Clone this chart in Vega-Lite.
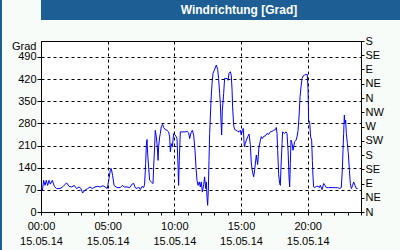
{
  "$schema": "https://vega.github.io/schema/vega-lite/v6.json",
  "background": "#f8fcf8",
  "padding": 0,
  "spacing": 0,
  "config": {
    "font": "Liberation Sans",
    "axis": {"labelFont": "Liberation Sans", "labelFontSize": 11, "labelColor": "black", "tickColor": "black", "domainColor": "black", "tickWidth": 1, "domainWidth": 1}
  },
  "hconcat": [
    {
      "width": 2, "height": 250,
      "view": {"fill": "#1d5e94", "stroke": null},
      "data": {"values": [{}]},
      "mark": {"type": "point", "size": 0, "opacity": 0},
      "encoding": {}
    },
    {
      "spacing": 0,
      "vconcat": [
        {
          "spacing": 14,
          "vconcat": [
            {
              "width": 396, "height": 20,
              "view": {"fill": "#1d5e94", "stroke": null},
              "data": {"values": [{"label": "Windrichtung [Grad]"}]},
              "mark": {"type": "text", "color": "white", "font": "Liberation Sans", "fontSize": 12, "fontWeight": "bold", "align": "center", "baseline": "middle"},
              "encoding": {"text": {"field": "label"}}
            },
            {
              "width": 320, "height": 171,
              "view": {"fill": "white", "stroke": "black"},
              "data": {
                "values": [
                  {"h": 0.0, "v": 72}, {"h": 0.1, "v": 67}, {"h": 0.2, "v": 100}, {"h": 0.3, "v": 84}, {"h": 0.4, "v": 100}, {"h": 0.5, "v": 84},
                  {"h": 0.6, "v": 100}, {"h": 0.7, "v": 88}, {"h": 0.85, "v": 100}, {"h": 1.0, "v": 81}, {"h": 1.17, "v": 74}, {"h": 1.43, "v": 74},
                  {"h": 1.67, "v": 81}, {"h": 1.92, "v": 92}, {"h": 2.1, "v": 81}, {"h": 2.3, "v": 79}, {"h": 2.5, "v": 84}, {"h": 2.67, "v": 74},
                  {"h": 2.85, "v": 79}, {"h": 3.0, "v": 74}, {"h": 3.12, "v": 60}, {"h": 3.3, "v": 69}, {"h": 3.5, "v": 74}, {"h": 3.68, "v": 79},
                  {"h": 3.85, "v": 74}, {"h": 4.05, "v": 79}, {"h": 4.25, "v": 81}, {"h": 4.45, "v": 79}, {"h": 4.65, "v": 83}, {"h": 4.8, "v": 79},
                  {"h": 4.97, "v": 74}, {"h": 5.1, "v": 105}, {"h": 5.2, "v": 132}, {"h": 5.27, "v": 137}, {"h": 5.37, "v": 116}, {"h": 5.48, "v": 84},
                  {"h": 5.7, "v": 77}, {"h": 5.95, "v": 77}, {"h": 6.1, "v": 84}, {"h": 6.25, "v": 79}, {"h": 6.45, "v": 79}, {"h": 6.65, "v": 77},
                  {"h": 6.83, "v": 88}, {"h": 6.95, "v": 90}, {"h": 7.07, "v": 77}, {"h": 7.2, "v": 74}, {"h": 7.32, "v": 79}, {"h": 7.45, "v": 71},
                  {"h": 7.58, "v": 81}, {"h": 7.7, "v": 77}, {"h": 7.77, "v": 88}, {"h": 7.85, "v": 153}, {"h": 7.9, "v": 211}, {"h": 7.95, "v": 229},
                  {"h": 8.0, "v": 184}, {"h": 8.07, "v": 142}, {"h": 8.15, "v": 100}, {"h": 8.27, "v": 95}, {"h": 8.4, "v": 90}, {"h": 8.45, "v": 142},
                  {"h": 8.52, "v": 206}, {"h": 8.57, "v": 258}, {"h": 8.65, "v": 237}, {"h": 8.72, "v": 206}, {"h": 8.78, "v": 163}, {"h": 8.82, "v": 206},
                  {"h": 8.9, "v": 237}, {"h": 8.95, "v": 248}, {"h": 9.02, "v": 269}, {"h": 9.12, "v": 277}, {"h": 9.2, "v": 267}, {"h": 9.32, "v": 260},
                  {"h": 9.45, "v": 258}, {"h": 9.57, "v": 253}, {"h": 9.65, "v": 237}, {"h": 9.7, "v": 190}, {"h": 9.77, "v": 216}, {"h": 9.85, "v": 206},
                  {"h": 9.9, "v": 227}, {"h": 9.95, "v": 248}, {"h": 10.07, "v": 243}, {"h": 10.2, "v": 232}, {"h": 10.28, "v": 142}, {"h": 10.32, "v": 84},
                  {"h": 10.37, "v": 163}, {"h": 10.45, "v": 253}, {"h": 10.58, "v": 253}, {"h": 10.82, "v": 253}, {"h": 10.95, "v": 255}, {"h": 11.07, "v": 250},
                  {"h": 11.15, "v": 232}, {"h": 11.25, "v": 250}, {"h": 11.35, "v": 258}, {"h": 11.45, "v": 243}, {"h": 11.55, "v": 195}, {"h": 11.63, "v": 137},
                  {"h": 11.7, "v": 100}, {"h": 11.78, "v": 84}, {"h": 11.87, "v": 95}, {"h": 11.95, "v": 79}, {"h": 12.02, "v": 95}, {"h": 12.1, "v": 63},
                  {"h": 12.2, "v": 86}, {"h": 12.27, "v": 111}, {"h": 12.35, "v": 74}, {"h": 12.4, "v": 95}, {"h": 12.45, "v": 47}, {"h": 12.5, "v": 21},
                  {"h": 12.55, "v": 69}, {"h": 12.6, "v": 163}, {"h": 12.65, "v": 248}, {"h": 12.7, "v": 300}, {"h": 12.75, "v": 353}, {"h": 12.83, "v": 406},
                  {"h": 12.9, "v": 438}, {"h": 13.0, "v": 448}, {"h": 13.15, "v": 464}, {"h": 13.25, "v": 450}, {"h": 13.32, "v": 422}, {"h": 13.4, "v": 374},
                  {"h": 13.45, "v": 343}, {"h": 13.5, "v": 285}, {"h": 13.55, "v": 243}, {"h": 13.6, "v": 322}, {"h": 13.7, "v": 374}, {"h": 13.77, "v": 422},
                  {"h": 13.88, "v": 421}, {"h": 13.95, "v": 422}, {"h": 14.03, "v": 416}, {"h": 14.1, "v": 438}, {"h": 14.2, "v": 443}, {"h": 14.27, "v": 432},
                  {"h": 14.33, "v": 385}, {"h": 14.37, "v": 332}, {"h": 14.45, "v": 274}, {"h": 14.52, "v": 261}, {"h": 14.63, "v": 258}, {"h": 14.75, "v": 255},
                  {"h": 14.85, "v": 253}, {"h": 14.95, "v": 258}, {"h": 15.02, "v": 243}, {"h": 15.1, "v": 258}, {"h": 15.17, "v": 264}, {"h": 15.25, "v": 206},
                  {"h": 15.32, "v": 216}, {"h": 15.4, "v": 227}, {"h": 15.5, "v": 237}, {"h": 15.6, "v": 246}, {"h": 15.7, "v": 213}, {"h": 15.77, "v": 155},
                  {"h": 15.85, "v": 130}, {"h": 15.95, "v": 111}, {"h": 16.03, "v": 135}, {"h": 16.15, "v": 180}, {"h": 16.25, "v": 150}, {"h": 16.35, "v": 206},
                  {"h": 16.45, "v": 225}, {"h": 16.52, "v": 238}, {"h": 16.6, "v": 232}, {"h": 16.7, "v": 239}, {"h": 16.82, "v": 240}, {"h": 16.95, "v": 248},
                  {"h": 17.07, "v": 245}, {"h": 17.2, "v": 253}, {"h": 17.33, "v": 255}, {"h": 17.45, "v": 258}, {"h": 17.57, "v": 260}, {"h": 17.65, "v": 267},
                  {"h": 17.7, "v": 248}, {"h": 17.75, "v": 195}, {"h": 17.82, "v": 121}, {"h": 17.9, "v": 90}, {"h": 17.95, "v": 84}, {"h": 18.0, "v": 142},
                  {"h": 18.08, "v": 216}, {"h": 18.12, "v": 253}, {"h": 18.25, "v": 248}, {"h": 18.38, "v": 253}, {"h": 18.45, "v": 248}, {"h": 18.53, "v": 195},
                  {"h": 18.6, "v": 111}, {"h": 18.65, "v": 79}, {"h": 18.7, "v": 153}, {"h": 18.75, "v": 227}, {"h": 18.83, "v": 216}, {"h": 18.9, "v": 195},
                  {"h": 18.95, "v": 206}, {"h": 19.02, "v": 222}, {"h": 19.13, "v": 227}, {"h": 19.2, "v": 237}, {"h": 19.28, "v": 258}, {"h": 19.35, "v": 300},
                  {"h": 19.43, "v": 364}, {"h": 19.5, "v": 395}, {"h": 19.58, "v": 422}, {"h": 19.65, "v": 429}, {"h": 19.75, "v": 432}, {"h": 19.88, "v": 434},
                  {"h": 19.97, "v": 435}, {"h": 20.03, "v": 385}, {"h": 20.07, "v": 290}, {"h": 20.15, "v": 285}, {"h": 20.22, "v": 237}, {"h": 20.3, "v": 227},
                  {"h": 20.35, "v": 163}, {"h": 20.4, "v": 111}, {"h": 20.45, "v": 79}, {"h": 20.52, "v": 77}, {"h": 20.65, "v": 81}, {"h": 20.78, "v": 81},
                  {"h": 20.88, "v": 77}, {"h": 20.95, "v": 84}, {"h": 21.08, "v": 71}, {"h": 21.2, "v": 90}, {"h": 21.3, "v": 84}, {"h": 21.4, "v": 77},
                  {"h": 21.57, "v": 77}, {"h": 21.83, "v": 77}, {"h": 22.07, "v": 77}, {"h": 22.25, "v": 77}, {"h": 22.4, "v": 74}, {"h": 22.52, "v": 77},
                  {"h": 22.6, "v": 132}, {"h": 22.65, "v": 195}, {"h": 22.7, "v": 248}, {"h": 22.75, "v": 306}, {"h": 22.8, "v": 279}, {"h": 22.85, "v": 290},
                  {"h": 22.9, "v": 248}, {"h": 22.98, "v": 216}, {"h": 23.05, "v": 184}, {"h": 23.13, "v": 132}, {"h": 23.2, "v": 90}, {"h": 23.28, "v": 74},
                  {"h": 23.37, "v": 84}, {"h": 23.45, "v": 95}, {"h": 23.55, "v": 84}, {"h": 23.65, "v": 74}, {"h": 23.75, "v": 74}
                ]
              },
              "resolve": {"axis": {"y": "independent"}},
              "layer": [
                {
                  "mark": {"type": "line", "color": "#0000ff", "strokeWidth": 1},
                  "encoding": {
                    "x": {
                      "field": "h", "type": "quantitative",
                      "scale": {"domain": [0, 24], "nice": false},
                      "axis": {
                        "orient": "bottom", "title": null,
                        "values": [0,1,2,3,4,5,6,7,8,9,10,11,12,13,14,15,16,17,18,19,20,21,22,23,24],
                        "tickCount": 25,
                        "tickSize": 3,
                        "labelExpr": "datum.value % 5 === 0 && datum.value < 24 ? [(datum.value < 10 ? '0' : '') + datum.value + ':00', '15.05.14'] : ''",
                        "labelPadding": 5, "labelLineHeight": 15, "labelOverlap": false, "labelFlush": false, "labelBound": false,
                        "grid": true, "gridColor": "black", "gridDash": [3, 3], "gridWidth": 1,
                        "gridOpacity": {"condition": {"test": "datum.value % 5 === 0", "value": 1}, "value": 0},
                        "minExtent": 37
                      }
                    },
                    "y": {
                      "field": "v", "type": "quantitative",
                      "scale": {"domain": [0, 540], "nice": false},
                      "axis": {
                        "orient": "left",
                        "values": [0, 70, 140, 210, 280, 350, 420, 490],
                        "tickCount": 10,
                        "tickSize": 4, "labelPadding": 1, "labelFlush": false, "labelOverlap": false,
                        "grid": true, "gridColor": "black", "gridDash": [3, 3], "gridWidth": 1,
                        "title": "Grad", "titleAngle": 0, "titleAlign": "right", "titleBaseline": "alphabetic",
                        "titleX": -5, "titleY": 8, "titleFont": "Liberation Sans", "titleFontSize": 11, "titleFontWeight": "normal", "titleColor": "black",
                        "minExtent": 38, "maxExtent": 38
                      }
                    }
                  }
                },
                {
                  "mark": {"type": "line", "opacity": 0, "strokeWidth": 1},
                  "encoding": {
                    "x": {"field": "h", "type": "quantitative"},
                    "y": {
                      "field": "v", "type": "quantitative",
                      "axis": {
                        "orient": "right", "title": null,
                        "values": [0, 45, 90, 135, 180, 225, 270, 315, 360, 405, 450, 495, 540],
                        "tickCount": 13,
                        "labelExpr": "datum.value % 360 === 0 ? 'N' : datum.value % 360 === 45 ? 'NE' : datum.value % 360 === 90 ? 'E' : datum.value % 360 === 135 ? 'SE' : datum.value % 360 === 180 ? 'S' : datum.value % 360 === 225 ? 'SW' : datum.value % 360 === 270 ? 'W' : 'NW'",
                        "tickSize": 3, "labelPadding": 1, "labelFlush": false, "labelOverlap": false, "grid": false,
                        "minExtent": 38, "maxExtent": 38
                      }
                    }
                  }
                }
              ]
            }
          ]
        },
        {
          "width": 396, "height": 2,
          "view": {"fill": "#1d5e94", "stroke": null},
          "data": {"values": [{}]},
          "mark": {"type": "point", "size": 0, "opacity": 0},
          "encoding": {}
        }
      ]
    },
    {
      "width": 2, "height": 250,
      "view": {"fill": "#1d5e94", "stroke": null},
      "data": {"values": [{}]},
      "mark": {"type": "point", "size": 0, "opacity": 0},
      "encoding": {}
    }
  ]
}
